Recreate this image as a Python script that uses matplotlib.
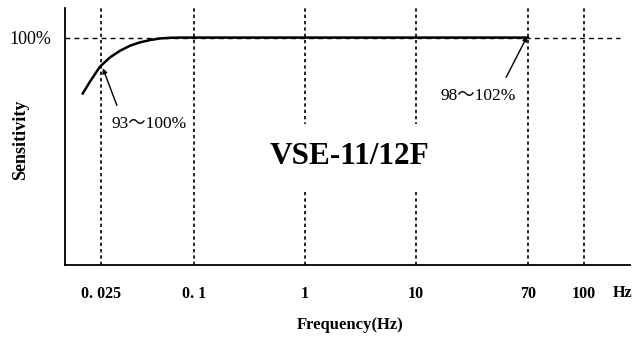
import numpy as np
import matplotlib
matplotlib.use('Agg')
import matplotlib.pyplot as plt

# frequency response data
freq = [0.0190, 0.0212, 0.0246, 0.0286, 0.0332, 0.0385, 0.0447, 0.0519,
        0.0602, 0.0699, 0.0811, 0.1, 1, 10, 70]
sens = [75.3, 80.6, 87.2, 91.3, 94.2, 96.4, 97.9, 98.9,
        99.6, 99.9, 100.0, 100.0, 100.0, 100.0, 100.0]

tick_freqs = [0.025, 0.1, 1, 10, 70, 100]
tick_labels = ['0. 025', '0. 1', '1', '10', '70', '100']

# the drawing is not a true log axis: piecewise log spacing between ticks
knot_f = np.log10(tick_freqs)
knot_u = np.array([0.36, 1.29, 2.40, 3.51, 4.63, 5.19])


def fwd(f):
    lf = np.log10(np.clip(np.asarray(f, dtype=float), 1e-6, None))
    u = np.interp(lf, knot_f, knot_u)
    s0 = (knot_u[1] - knot_u[0]) / (knot_f[1] - knot_f[0])
    s1 = (knot_u[-1] - knot_u[-2]) / (knot_f[-1] - knot_f[-2])
    u = np.where(lf < knot_f[0], knot_u[0] + (lf - knot_f[0]) * s0, u)
    u = np.where(lf > knot_f[-1], knot_u[-1] + (lf - knot_f[-1]) * s1, u)
    return u


def inv(u):
    u = np.asarray(u, dtype=float)
    lf = np.interp(u, knot_u, knot_f)
    s0 = (knot_f[1] - knot_f[0]) / (knot_u[1] - knot_u[0])
    s1 = (knot_f[-1] - knot_f[-2]) / (knot_u[-1] - knot_u[-2])
    lf = np.where(u < knot_u[0], knot_f[0] + (u - knot_u[0]) * s0, lf)
    lf = np.where(u > knot_u[-1], knot_f[-1] + (u - knot_u[-1]) * s1, lf)
    return 10 ** lf


fig = plt.figure(figsize=(6.34, 3.44), dpi=100)
ax = fig.add_axes([65 / 634, 1 - 265 / 344, 565 / 634, 257 / 344])
ax.set_xscale('function', functions=(fwd, inv))
ax.set_xlim(inv(0.0), inv(5.65))
ax.set_ylim(0, 113.0)

serif = ['Liberation Serif', 'Noto Sans CJK JP']

# grid lines
for f in tick_freqs:
    ax.axvline(f, color='black', lw=1.2, ls=(0, (2.0, 1.8)), zorder=1)
ax.axhline(100, xmax=555 / 565, color='black', lw=1.0, ls=(0, (3.5, 3)), zorder=1)

ax.plot(freq, sens, color='black', lw=1.8, zorder=3, solid_capstyle='round')

ax.spines['top'].set_visible(False)
ax.spines['right'].set_visible(False)
ax.spines['left'].set_linewidth(1.3)
ax.spines['bottom'].set_linewidth(1.3)

ax.set_xticks(tick_freqs)
ax.set_xticklabels(tick_labels, fontfamily=serif, fontweight='bold', fontsize=11.5)
ax.xaxis.set_minor_locator(matplotlib.ticker.NullLocator())
ax.set_yticks([100])
ax.set_yticklabels(['100%'], fontfamily=serif, fontsize=13)
ax.tick_params(length=0, pad=15, axis='x')
ax.tick_params(length=0, pad=10, axis='y')

ax.text(1.0 + 2 / 565, -28 / 257, 'Hz', transform=ax.transAxes, ha='right', va='center',
        fontfamily=serif, fontweight='bold', fontsize=11.5)

fig.text(21 / 634, 1 - 140 / 344, 'Sensitivity', rotation=90, ha='center', va='center',
         fontfamily=serif, fontweight='bold', fontsize=13)
fig.text(350 / 634, 1 - 325 / 344, 'Frequency(Hz)', ha='center', va='center',
         fontfamily=serif, fontweight='bold', fontsize=12)

ax.text((350 - 65) / 565, 47.5, 'VSE-11/12F', transform=ax.get_yaxis_transform(),
        ha='center', va='center', fontfamily=serif, fontweight='bold', fontsize=22.5,
        bbox=dict(facecolor='white', edgecolor='none', pad=13), zorder=4)

ax.annotate('93～100%', xy=(0.0257, 86.5), xytext=(0.0515, 62),
            ha='center', va='center', fontfamily=serif, fontsize=12.5,
            arrowprops=dict(arrowstyle='-|>', color='black', lw=1.0, shrinkA=6, shrinkB=0,
                            mutation_scale=7, relpos=(0.12, 1.0)))
ax.annotate('98～102%', xy=(69, 100.5), xytext=(29.5, 74.5),
            ha='center', va='center', fontfamily=serif, fontsize=12.5,
            arrowprops=dict(arrowstyle='-|>', color='black', lw=1.0, shrinkA=6, shrinkB=0,
                            mutation_scale=7, relpos=(0.8, 1.0)))

fig.savefig('out.png', dpi=100)
